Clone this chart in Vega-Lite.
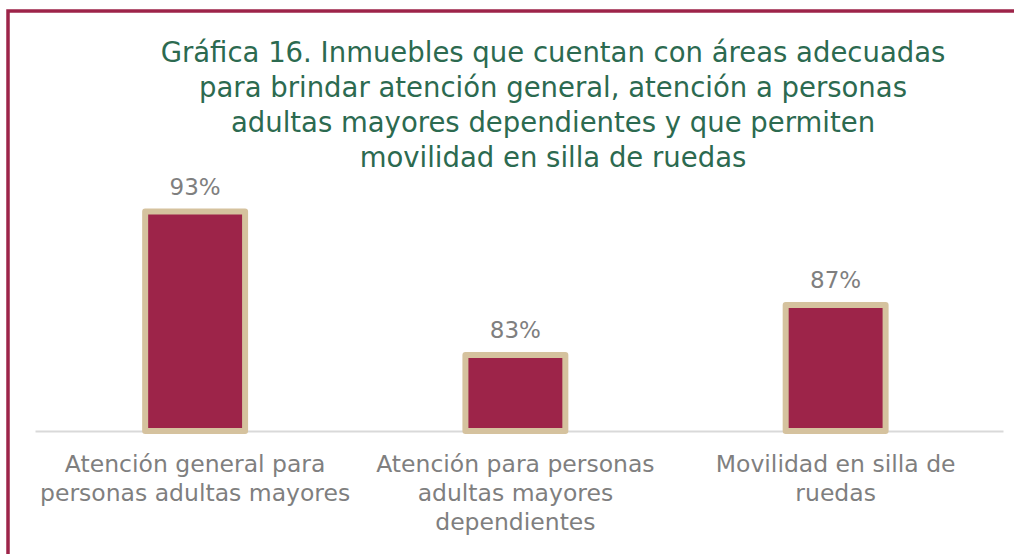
{
  "$schema": "https://vega.github.io/schema/vega-lite/v6.json",
  "width": 1016,
  "height": 553,
  "autosize": {"type": "none"},
  "padding": {"left": 8, "top": 11, "right": -10, "bottom": -10},
  "background": "white",
  "config": {
    "view": {"stroke": "#9D2449", "strokeWidth": 3.5},
    "font": "DejaVu Sans"
  },
  "title": {
    "text": [
      "Gráfica 16. Inmuebles que cuentan con áreas adecuadas",
      "para brindar atención general, atención a  personas",
      "adultas mayores dependientes y que permiten",
      "movilidad en silla de ruedas"
    ],
    "anchor": "middle",
    "font": "DejaVu Sans",
    "fontSize": 27.5,
    "fontWeight": "normal",
    "color": "#2C6A50",
    "lineHeight": 35,
    "baseline": "top",
    "offset": -161,
    "dx": 37
  },
  "data": {
    "values": [
      {"categoria": "Atención general para\npersonas adultas mayores", "valor": 0.926},
      {"categoria": "Atención para personas\nadultas mayores\ndependientes", "valor": 0.834},
      {"categoria": "Movilidad en silla de\nruedas", "valor": 0.866}
    ]
  },
  "encoding": {
    "x": {
      "field": "categoria",
      "type": "nominal",
      "sort": null,
      "scale": {"range": [27, 995], "paddingInner": 0, "paddingOuter": 0.0113, "align": 0},
      "axis": {
        "title": null,
        "orient": "bottom",
        "offset": -133,
        "domainColor": "#D9D9D9",
        "domainWidth": 2,
        "ticks": false,
        "tickSize": 0,
        "labelPadding": 21,
        "labelFont": "DejaVu Sans",
        "labelFontSize": 23.5,
        "labelColor": "#7F7F7F",
        "labelAngle": 0,
        "labelBaseline": "top",
        "labelLineHeight": 29,
        "labelLimit": 0,
        "labelOverlap": false,
        "labelExpr": "split(datum.label, '\\n')"
      }
    },
    "y": {
      "field": "valor",
      "type": "quantitative",
      "scale": {"domain": [0.7, 1.0546], "nice": false, "zero": false},
      "axis": null
    }
  },
  "layer": [
    {
      "mark": {
        "type": "bar",
        "fill": "#9D2449",
        "stroke": "#D5C29E",
        "strokeWidth": 6,
        "strokeJoin": "round",
        "width": {"band": 0.312}
      },
      "encoding": {
        "y2": {"datum": 0.7853}
      }
    },
    {
      "mark": {
        "type": "text",
        "dy": -17,
        "baseline": "alphabetic",
        "font": "DejaVu Sans",
        "fontSize": 23,
        "color": "#7F7F7F"
      },
      "encoding": {
        "text": {"field": "valor", "type": "quantitative", "format": ".0%"}
      }
    }
  ]
}
